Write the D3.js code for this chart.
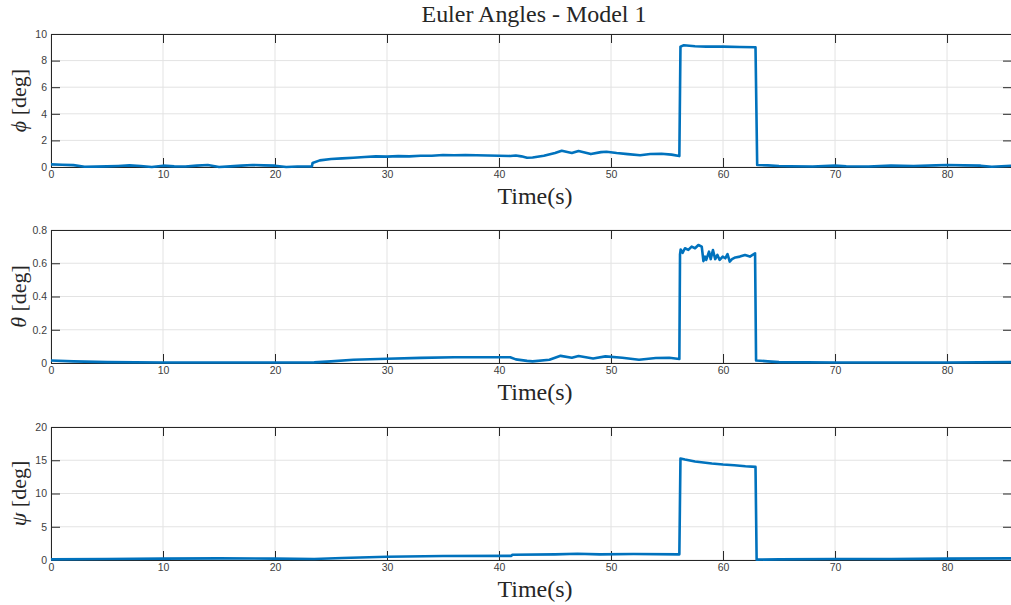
<!DOCTYPE html>
<html>
<head>
<meta charset="utf-8">
<script src="https://cdn.jsdelivr.net/npm/d3@7"></script>
<style>
  html, body { margin: 0; padding: 0; background: #fff; }
  svg { display: block; }
</style>
</head>
<body>
<svg id="chart" width="1011" height="605"></svg>
<script>
// Euler angle time histories, [time (s), angle (deg)]
const phiData = [
  [0,0.2],[1,0.17],[2,0.14],[3,0.02],[4,0.03],[5,0.05],[6,0.08],[7,0.12],[8,0.08],[9,0.0],
  [10,0.1],[11,0.05],[12,0.04],[13,0.1],[14,0.15],[15,0.0],[16,0.05],[17,0.1],[18,0.15],
  [19,0.12],[20,0.1],[21,0.0],[22,0.04],[23.3,0.05],[23.35,0.3],[24,0.5],[25,0.6],[26,0.65],
  [27,0.7],[28,0.75],[29,0.8],[30,0.78],[31,0.82],[32,0.8],[33,0.85],[34,0.85],[35,0.9],
  [36,0.88],[37,0.9],[38,0.88],[39,0.87],[40,0.85],[41,0.83],[41.5,0.87],[42,0.8],[42.5,0.7],
  [43,0.72],[44,0.85],[45,1.05],[45.6,1.22],[46.5,1.05],[47.1,1.2],[48.2,0.97],[49.1,1.12],
  [49.6,1.15],[50.5,1.05],[51.5,0.97],[52.6,0.88],[53.5,0.98],[54.5,1.0],[55.4,0.93],[56.1,0.82],
  [56.2,9.05],[56.5,9.15],[57.5,9.08],[58.5,9.05],[60,9.05],[61.5,9.02],[62.9,9.0],
  [63.05,0.15],[64,0.12],[65,0.08],[66,0.06],[68,0.04],[70,0.1],[71,0.06],[73,0.04],[75,0.1],
  [77,0.08],[79,0.12],[80,0.15],[81.5,0.12],[83,0.1],[84,0.02],[85.8,0.1]
];
const thetaData = [
  [0,0.015],[2,0.01],[5,0.005],[10,0.003],[15,0.003],[20,0.003],[23.5,0.004],[25,0.01],
  [27,0.02],[30,0.026],[33,0.031],[36,0.035],[39,0.035],[41,0.035],[41.5,0.022],[42.5,0.013],
  [43,0.01],[44.5,0.02],[45.5,0.043],[46.5,0.032],[47.1,0.042],[48.4,0.027],[49.5,0.04],
  [51,0.032],[52.5,0.02],[54,0.03],[55.2,0.032],[56.1,0.024],
  [56.16,0.653],[56.22,0.683],[56.4,0.663],[56.6,0.69],[56.9,0.68],[57.2,0.70],[57.5,0.69],
  [57.8,0.71],[58.1,0.70],[58.25,0.613],[58.4,0.64],[58.5,0.62],[58.75,0.67],[58.9,0.625],
  [59.1,0.68],[59.3,0.625],[59.5,0.65],[59.7,0.62],[59.97,0.64],[60.2,0.63],[60.4,0.655],
  [60.6,0.61],[60.8,0.625],[61.1,0.635],[61.5,0.64],[61.96,0.65],[62.4,0.64],[62.86,0.66],
  [62.95,0.015],[64,0.01],[65,0.005],[70,0.003],[75,0.003],[80,0.003],[85.8,0.005]
];
const psiData = [
  [0,0.1],[5,0.15],[10,0.2],[15,0.25],[20,0.2],[23.5,0.15],[26,0.3],[30,0.5],[35,0.6],
  [41.1,0.62],[41.2,0.8],[45,0.85],[47,0.95],[49,0.85],[52,0.9],[56.1,0.85],
  [56.2,15.25],[56.6,15.1],[57.5,14.8],[59,14.5],[60,14.35],[61,14.25],[62,14.1],[62.9,14.0],
  [63.0,0.05],[65,0.1],[70,0.15],[75,0.15],[80,0.2],[85.8,0.25]
];

// Axis ticks
const xTicks = [0,10,20,30,40,50,60,70,80];
const phiTicks = [0,2,4,6,8,10];
const thetaTicks = [0,0.2,0.4,0.6,0.8];
const psiTicks = [0,5,10,15,20];

const chartTitle = "Euler Angles - Model 1";
const xLabel = "Time(s)";
const xMax = 85.8;

const svg = d3.select("#chart");
const left = 51, right = 1012;
const lineColor = "#0072BD";
const axisColor = "#262626";
const gridColor = "#e3e3e3";
const tickLen = 9;

const panels = [
  { data: phiData,   ticks: phiTicks,   yMax: 10,  top: 34,  bottom: 167, sym: "\u03D5", fmt: d3.format("d") },
  { data: thetaData, ticks: thetaTicks, yMax: 0.8, top: 230, bottom: 363, sym: "\u03B8", fmt: d => d === 0 ? "0" : d3.format(".1f")(d) },
  { data: psiData,   ticks: psiTicks,   yMax: 20,  top: 427, bottom: 560, sym: "\u03C8", fmt: d3.format("d") }
];

svg.append("text")
  .attr("x", 534).attr("y", 22)
  .attr("text-anchor", "middle")
  .attr("font-family", "Liberation Serif, serif")
  .attr("font-size", 22.5)
  .attr("textLength", 225)
  .attr("lengthAdjust", "spacingAndGlyphs")
  .attr("fill", axisColor)
  .text(chartTitle);

panels.forEach((p, i) => {
  const x = d3.scaleLinear().domain([0, xMax]).range([left, right]);
  const y = d3.scaleLinear().domain([0, p.yMax]).range([p.bottom, p.top]);
  const g = svg.append("g");

  // grid
  g.append("g").selectAll("line").data(xTicks).join("line")
    .attr("x1", d => x(d)).attr("x2", d => x(d))
    .attr("y1", p.top).attr("y2", p.bottom)
    .attr("stroke", gridColor).attr("stroke-width", 1);
  g.append("g").selectAll("line").data(p.ticks).join("line")
    .attr("x1", left).attr("x2", right)
    .attr("y1", d => y(d)).attr("y2", d => y(d))
    .attr("stroke", gridColor).attr("stroke-width", 1);

  // axes with inward ticks
  const xAxisB = d3.axisBottom(x).tickValues(xTicks).tickSizeInner(-tickLen).tickSizeOuter(0).tickPadding(4).tickFormat(d3.format("d"));
  const xAxisT = d3.axisTop(x).tickValues(xTicks).tickSizeInner(-tickLen).tickSizeOuter(0).tickFormat("");
  const yAxisL = d3.axisLeft(y).tickValues(p.ticks).tickSizeInner(-tickLen).tickSizeOuter(0).tickPadding(4).tickFormat(p.fmt);
  const yAxisR = d3.axisRight(y).tickValues(p.ticks).tickSizeInner(-tickLen).tickSizeOuter(0).tickFormat("");

  const styleAxis = sel => {
    sel.select(".domain").attr("stroke", axisColor).attr("stroke-width", 1);
    sel.selectAll(".tick line").attr("stroke", axisColor).attr("stroke-width", 1);
    sel.selectAll(".tick text").attr("fill", "#404040")
      .attr("font-family", "Liberation Sans, Arial, sans-serif").attr("font-size", 10.5);
  };

  g.append("g").attr("transform", `translate(0,${p.bottom})`).call(xAxisB).call(styleAxis);
  g.append("g").attr("transform", `translate(0,${p.top})`).call(xAxisT).call(styleAxis);
  g.append("g").attr("transform", `translate(${left},0)`).call(yAxisL).call(styleAxis);
  g.append("g").attr("transform", `translate(${right},0)`).call(yAxisR).call(styleAxis);

  // signal
  const line = d3.line().x(d => x(d[0])).y(d => y(d[1]));
  g.append("path").datum(p.data)
    .attr("d", line)
    .attr("fill", "none")
    .attr("stroke", lineColor)
    .attr("stroke-width", 2.6)
    .attr("stroke-linejoin", "round");

  // x label
  g.append("text")
    .attr("x", 535).attr("y", p.bottom + 37)
    .attr("text-anchor", "middle")
    .attr("font-family", "Liberation Serif, serif")
    .attr("font-size", 24)
    .attr("fill", axisColor)
    .text(xLabel);

  // y label
  const yl = g.append("text")
    .attr("transform", `translate(${21},${(p.top + p.bottom) / 2}) rotate(-90)`)
    .attr("text-anchor", "middle")
    .attr("dominant-baseline", "middle")
    .attr("font-family", "Liberation Serif, serif")
    .attr("font-size", 22)
    .attr("fill", axisColor);
  yl.append("tspan").attr("font-style", "italic").text(p.sym);
  yl.append("tspan").text(" [deg]");
});
</script>
</body>
</html>
